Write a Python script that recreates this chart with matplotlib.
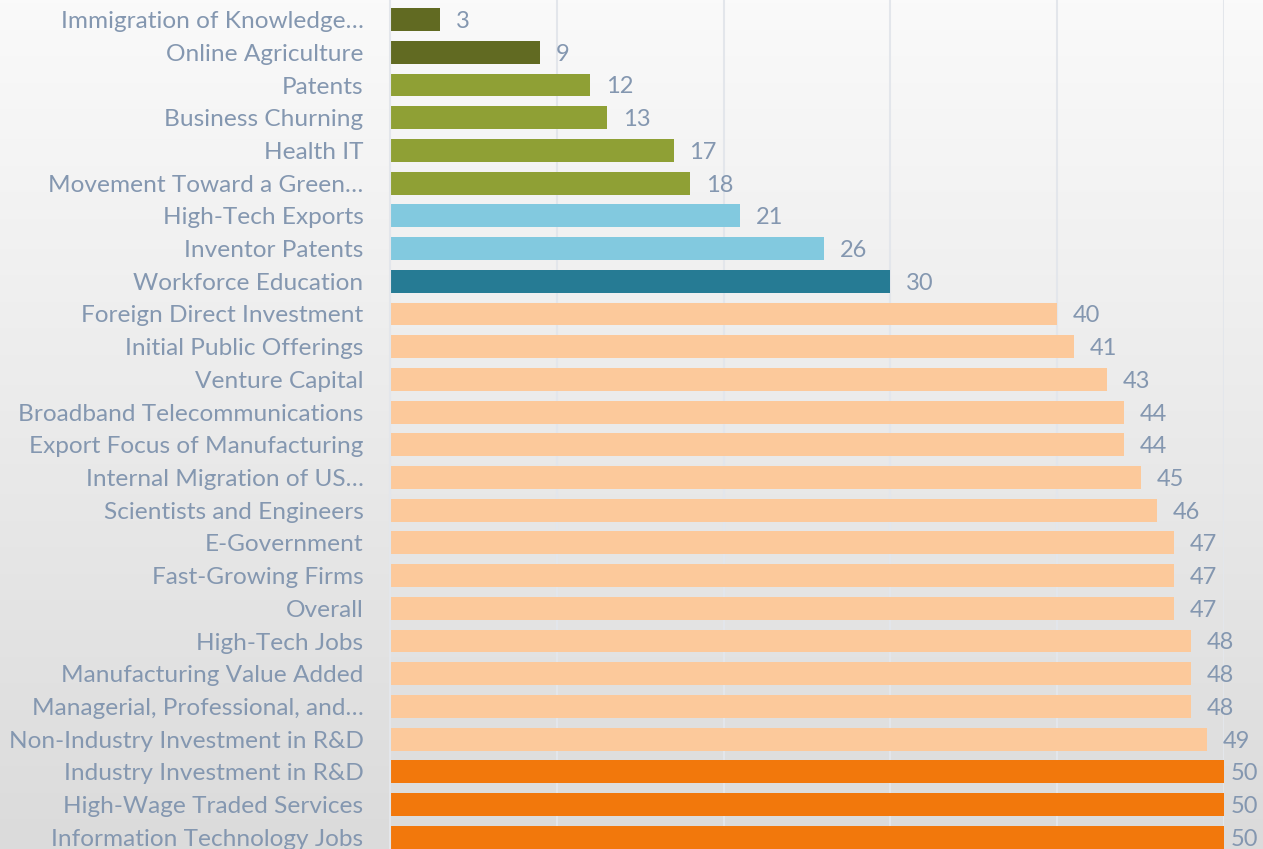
import matplotlib
matplotlib.use('Agg')
import matplotlib.pyplot as plt
import numpy as np

labels = ['Immigration of Knowledge…', 'Online Agriculture', 'Patents', 'Business Churning',
          'Health IT', 'Movement Toward a Green…', 'High-Tech Exports', 'Inventor Patents',
          'Workforce Education', 'Foreign Direct Investment', 'Initial Public Offerings',
          'Venture Capital', 'Broadband Telecommunications', 'Export Focus of Manufacturing',
          'Internal Migration of US…', 'Scientists and Engineers', 'E-Government',
          'Fast-Growing Firms', 'Overall', 'High-Tech Jobs', 'Manufacturing Value Added',
          'Managerial, Professional, and…', 'Non-Industry Investment in R&D',
          'Industry Investment in R&D', 'High-Wage Traded Services', 'Information Technology Jobs']
values = [3, 9, 12, 13, 17, 18, 21, 26, 30, 40, 41, 43, 44, 44, 45, 46, 47, 47, 47,
          48, 48, 48, 49, 50, 50, 50]
groups = [0, 0, 1, 1, 1, 1, 2, 2, 3] + [4] * 14 + [5] * 3

palette = ['#616a22', '#8fa035', '#82c9df', '#267b94', '#fcc99b', '#f2780c']
txt = '#8497b0'

fig = plt.figure(figsize=(12.63, 8.49), dpi=100)

# gradient background
bg = fig.add_axes([0, 0, 1, 1], zorder=0)
grad = np.linspace(0, 1, 256).reshape(-1, 1)
cm = matplotlib.colors.LinearSegmentedColormap.from_list('bg', ['#fafafa', '#dbdbdb'])
bg.imshow(grad, aspect='auto', cmap=cm, extent=[0, 1, 1, 0])
bg.axis('off')

ax = fig.add_axes([390 / 1263, 0, (1224 - 390) / 1263, 1], zorder=1)
ax.set_facecolor('none')
y = np.arange(len(values))
ax.barh(y, values, height=0.7, color=[palette[g] for g in groups], zorder=2)
for yi, v in zip(y, values):
    # labels near the right edge get pulled in, like excel does
    ax.text(min(v + 0.95, 50.4), yi + 0.06, str(v), va='center', ha='left', color=txt,
            fontsize=17, family='Lato', clip_on=False)

ax.set_xlim(0, 50)
ax.set_ylim(25.36, -0.6)
ax.set_xticks([10, 20, 30, 40, 50])
ax.xaxis.grid(True, color='#e3e6eb', linewidth=1.5, zorder=0)
ax.set_axisbelow(True)
ax.tick_params(axis='x', length=0, labelbottom=False)
ax.set_yticks(y)
ax.set_yticklabels(labels, fontsize=17.6, color=txt, family='Lato')
ax.tick_params(axis='y', length=0, pad=19)
for s in ['top', 'right', 'bottom']:
    ax.spines[s].set_visible(False)
ax.spines['left'].set_color('#e3e6eb')
ax.spines['left'].set_linewidth(1.5)

plt.savefig('out.png', dpi=100)
